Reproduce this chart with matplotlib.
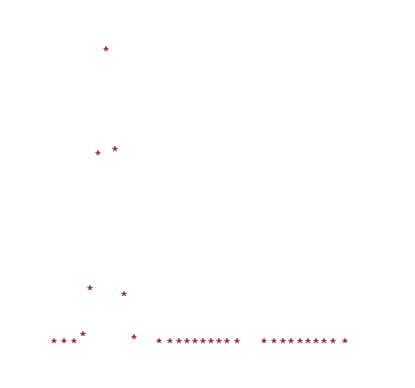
import matplotlib
matplotlib.use("Agg")
import matplotlib.pyplot as plt

# estimated data values (x in arbitrary units, y values)
x_vals = [54, 64.3, 74, 82.7, 90.3, 98.3, 106, 114.7, 123.7, 134,
          159.3, 170, 179.3, 187.3, 195.3, 202.7, 210.7, 219, 227.3, 237.3,
          264.3, 274.3, 283.3, 291.3, 299.7, 307.7, 315.7, 324, 332.7, 344.7]
y_vals = [0, 0, 0, 0.22, 1.82, 6.45, 10.0, 6.57, 1.60, 0.12,
          0, 0, 0, 0, 0, 0, 0, 0, 0, 0,
          0, 0, 0, 0, 0, 0, 0, 0, 0, 0]

fig = plt.figure(figsize=(4.15, 3.88), dpi=100)
ax = fig.add_axes([0, 0, 1, 1])
ax.plot(x_vals, y_vals, linestyle='none', marker='*', markersize=3.8,
        color='#962a4c', markeredgewidth=0.2)
ax.set_xlim(0, 415)
ax.set_ylim(-1.623, 11.692)
ax.axis('off')
fig.savefig('out.png', dpi=100)
